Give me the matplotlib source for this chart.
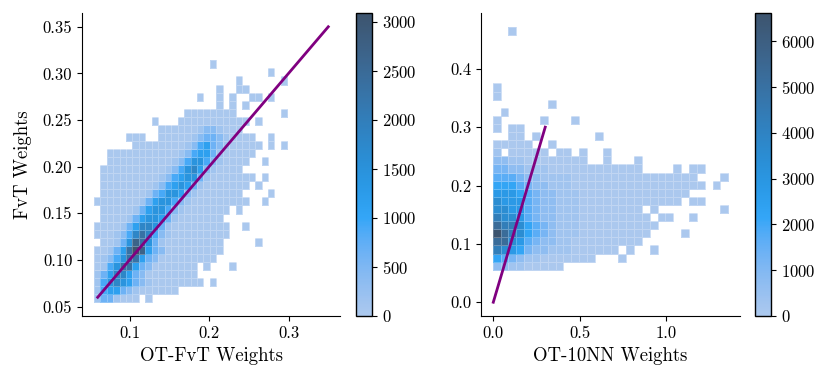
import numpy as np
import matplotlib
matplotlib.use("Agg")
import matplotlib.pyplot as plt
import matplotlib.colors as mcolors
from seaborn.external import husl

plt.rcParams['font.family'] = 'serif'
plt.rcParams['font.serif'] = ['cmr10']
plt.rcParams['mathtext.fontset'] = 'cm'
plt.rcParams['axes.formatter.use_mathtext'] = True
plt.rcParams['axes.unicode_minus'] = False

# ---- data ----------------------------------------------------------------
# each string is one row of 2d-histogram cells (top row first), one char per
# cell; the char is a count level, '.' means an empty cell

fvt_x_edges = np.linspace(0.055, 0.2986, 31)
fvt_y_edges = np.linspace(0.0547, 0.314, 31)
fvt_levels = {'.': 0, '1': 30, '2': 150, '3': 400, '4': 650, '5': 900, '6': 1150,
              '7': 1450, '8': 1800, '9': 2300, 'A': 2700, 'B': 3090}
fvt_rows = [
    "..................1",
    "...........................1",
    "......................1......1",
    "...................1..11",
    "................1..1.1..11.1",
    "...................1.1.1",
    "..............11111111.......1",
    ".........1...11111111111.1",
    "..........1111112332111",
    ".....111..111112344321111..1",
    "......11111111235643211111.1.1",
    "..11111111111235664211111",
    "..1111111111235775321111..1",
    ".1111111111235786321111",
    ".111111111235677421111111.1",
    ".11111111235676421111111.1",
    ".1111111245776321111111....1",
    "111111124677532111111111..1",
    ".11111246775321111111.1",
    ".1111246776421111111",
    "111124688742111111111..1",
    "111235898532111111111",
    ".11247A9742111111111.....1",
    "112469BA643111111111",
    "1235799643111111111",
    "1257996431111111.1...1",
    "2468864311111111",
    "25787643211111111.1",
    "2566432111111",
    "2442111.1",
]

knn_x_edges = np.linspace(-0.003, 1.357, 31)
knn_y_edges = np.linspace(0.0556, 0.472, 31)
knn_levels = {'.': 0, '1': 30, '2': 300, '3': 700, '4': 1200, '5': 1700, '6': 2200,
              '7': 2800, '8': 3500, '9': 4300, 'A': 5300, 'B': 6620}
knn_rows = [
    "..1",
    "",
    "",
    "",
    "",
    "",
    "",
    "1",
    "1",
    ".......1",
    ".1",
    "1.....1...1",
    "1.11",
    "..11.1.......1",
    "11111..1",
    "2.11111.11.1..1",
    "332211111111..1...1",
    "4433222111111111111....1.11",
    "55543322221111111111111111...1",
    "666543322211111111111111111.1",
    "7776543322211111111111111",
    "877754332221111111111111.11",
    "8877543322211111111.1........1",
    "98875433222111111111.11..1",
    "A99865432221111111111",
    "BA986543222111111111....1",
    "AA87543322111111111",
    "9876433222111111.1..1",
    "6543221111111...1",
    "332211111",
]

fvt_line = [0.06, 0.35]
knn_line = [0.0, 0.3]

fvt_cbar_ticks = [0, 500, 1000, 1500, 2000, 2500, 3000]
knn_cbar_ticks = [0, 1000, 2000, 3000, 4000, 5000, 6000]


def grid_counts(rows, levels, ncol=30):
    grid = [[levels[c] for c in r.ljust(ncol, '.')] for r in rows[::-1]]
    return np.ma.masked_equal(np.array(grid, dtype=float), 0)


def seed_cmap(color):
    # same ramp seaborn builds for a bivariate histplot
    r, g, b = mcolors.to_rgb(color)
    h, s, _ = husl.rgb_to_husl(r, g, b)
    xx = np.linspace(-1, 1, int(1.15 * 256))[:256]
    ramp = np.zeros((256, 3))
    ramp[:, 0] = h
    ramp[:, 1] = s * np.cos(xx)
    ramp[:, 2] = np.linspace(35, 80, 256)
    colors = np.clip([husl.husl_to_rgb(*hsl) for hsl in ramp], 0, 1)
    return mcolors.ListedColormap(colors[::-1])


cmap = seed_cmap('#1f77b4')

W, H = 831, 383
fig = plt.figure(figsize=(W / 100, H / 100), dpi=100)

panels = [
    dict(rect=[82, 67, 258, 303], crect=[356, 67, 16, 303],
         xe=fvt_x_edges, ye=fvt_y_edges, rows=fvt_rows, lev=fvt_levels,
         line=fvt_line, cticks=fvt_cbar_ticks,
         xlabel='OT-FvT Weights', ylabel='FvT Weights',
         xticks=[0.1, 0.2, 0.3], yticks=[0.05, 0.10, 0.15, 0.20, 0.25, 0.30, 0.35],
         yfmt='%.2f', xfmt='%.1f'),
    dict(rect=[481, 67, 259, 303], crect=[755, 67, 16, 303],
         xe=knn_x_edges, ye=knn_y_edges, rows=knn_rows, lev=knn_levels,
         line=knn_line, cticks=knn_cbar_ticks,
         xlabel='OT-10NN Weights', ylabel=None,
         xticks=[0.0, 0.5, 1.0], yticks=[0.0, 0.1, 0.2, 0.3, 0.4],
         yfmt='%.1f', xfmt='%.1f'),
]

for p in panels:
    l, b, w, h = p['rect']
    ax = fig.add_axes([l / W, b / H, w / W, h / H])
    cl, cb, cw, ch = p['crect']
    cax = fig.add_axes([cl / W, cb / H, cw / W, ch / H])

    counts = grid_counts(p['rows'], p['lev'])
    vmax = max(p['lev'].values())
    mesh = ax.pcolormesh(p['xe'], p['ye'], counts, cmap=cmap, vmin=0, vmax=vmax,
                         edgecolor=(1, 1, 1, 0.25), linewidth=0.4)
    mesh.sticky_edges.x[:] = []
    mesh.sticky_edges.y[:] = []
    ax.plot(p['line'], p['line'], color='purple', lw=2)
    ax.margins(0.05)
    ax.autoscale_view()

    ax.spines['top'].set_visible(False)
    ax.spines['right'].set_visible(False)
    ax.set_xticks(p['xticks'])
    ax.set_yticks(p['yticks'])
    ax.set_xticklabels([p['xfmt'] % v for v in p['xticks']])
    ax.set_yticklabels([p['yfmt'] % v for v in p['yticks']])
    ax.tick_params(labelsize=12, length=3.5)
    ax.set_xlabel(p['xlabel'], fontsize=13.5)
    if p['ylabel']:
        ax.set_ylabel(p['ylabel'], fontsize=13.5, labelpad=8)

    cbar = fig.colorbar(mesh, cax=cax)
    cbar.set_ticks(p['cticks'])
    cbar.ax.tick_params(labelsize=12, length=3.5)
    cbar.outline.set_linewidth(1.0)

fig.savefig('out.png', dpi=100)
